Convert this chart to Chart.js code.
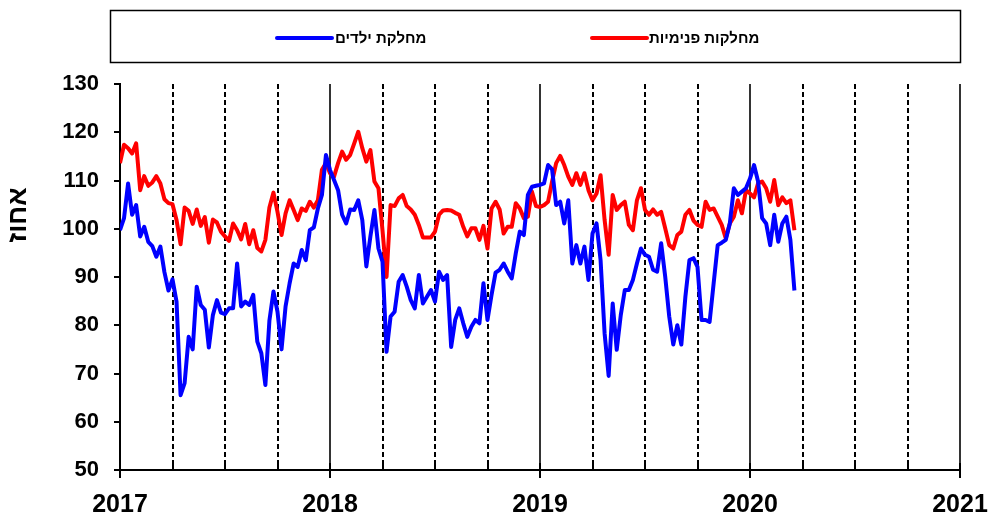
<!DOCTYPE html>
<html>
<head>
<meta charset="utf-8">
<style>
html,body{margin:0;padding:0;background:#ffffff;}
#wrap{position:relative;width:995px;height:519px;}
</style>
<script src="https://cdn.jsdelivr.net/npm/chart.js@4.4.1/dist/chart.umd.min.js"></script>
</head>
<body>
<div id="wrap"><canvas id="c" width="995" height="519"></canvas></div>
<script>
// ---- data ----
const yearLabels = ['2017', '2018', '2019', '2020', '2021'];
const startYear = 2017;
const weeksPerYear = 52;
const seriesNames = ['מחלקת ילדים', 'מחלקות פנימיות'];
const yAxisTitle = 'אחוז';
const yTickValues = [50, 60, 70, 80, 90, 100, 110, 120, 130];

// weekly values, from the first week of 2017
const childrenWard = [
  99.7,102.2,109.4,102.9,104.9,98.4,100.4,97.3,96.4,94.2,
  96.3,91.0,87.2,89.5,84.9,65.5,68.0,77.6,75.0,88.0,
  84.2,83.2,75.4,82.1,85.2,82.6,82.3,83.5,83.5,92.8,
  83.9,84.9,84.2,86.3,76.6,74.2,67.6,81.0,87.0,82.8,
  75.0,83.9,88.7,92.8,92.1,95.6,93.5,99.7,100.3,104.2,
  107.0,115.3,112.2,110.1,108.0,102.9,101.1,104.0,103.9,105.9,
  101.8,92.2,98.4,103.9,95.9,93.2,74.5,81.8,82.8,89.0,
  90.4,88.0,85.2,83.5,90.4,84.5,85.9,87.3,84.9,91.1,
  89.4,90.4,75.5,81.1,83.5,80.4,77.6,79.7,81.1,80.4,
  88.7,81.1,86.3,90.9,91.5,92.8,91.1,89.7,94.9,99.4,
  98.7,107.0,108.7,108.9,109.1,109.4,113.2,112.3,104.9,105.6,
  101.1,105.9,92.8,96.6,92.8,96.3,89.4,99.0,101.1,93.5,
  78.3,69.5,84.5,74.9,82.1,87.3,87.3,89.4,92.8,95.9,
  94.6,94.2,91.5,91.1,97.0,90.1,81.8,76.0,80.0,76.0,
  85.9,93.5,93.9,92.1,81.1,81.1,80.7,88.7,96.6,97.1,
  97.7,101.1,108.4,107.0,107.7,108.4,110.4,113.2,109.8,102.2,
  101.1,96.6,102.9,97.3,101.1,102.5,97.7,87.2
];
const internalWards = [
  113.6,117.4,116.7,115.6,117.7,108.0,110.9,108.9,109.6,110.9,
  109.4,106.1,105.3,105.1,101.8,96.8,104.4,103.7,101.0,104.0,
  100.6,102.4,97.1,101.9,101.3,99.4,98.4,97.5,101.1,99.7,
  97.8,101.0,96.8,99.7,96.0,95.3,97.7,104.4,107.5,103.5,
  98.7,103.2,105.9,103.9,101.8,104.2,103.7,105.6,104.4,105.9,
  112.2,113.6,111.5,110.8,113.6,116.0,114.3,115.3,117.7,120.1,
  116.7,113.9,116.3,109.8,108.4,99.7,90.0,104.9,104.7,106.3,
  107.0,104.7,104.0,102.9,100.8,98.2,98.2,98.2,99.4,102.9,
  103.8,103.9,103.8,103.3,102.9,100.4,98.4,100.1,100.1,97.7,
  100.6,95.9,104.2,105.6,104.0,99.0,100.4,100.4,105.3,104.2,
  102.2,102.5,107.7,104.7,104.5,104.9,105.6,109.8,113.6,115.1,
  113.2,110.8,109.1,111.5,109.1,111.5,108.0,105.9,107.3,111.1,
  101.8,94.6,107.0,103.9,104.9,105.6,100.8,99.7,105.9,108.4,
  103.9,102.9,104.0,102.9,103.5,100.1,96.6,95.9,98.7,99.4,
  102.9,103.9,101.7,100.8,100.4,105.6,103.9,104.2,102.5,100.8,
  98.0,101.1,102.5,105.9,103.2,108.0,107.3,106.5,109.4,109.8,
  108.4,105.6,110.1,104.9,106.5,105.3,105.9,99.7
];

// ---- build ----
const FONT = "'Liberation Sans', Arial, sans-serif";
const toPoints = arr => arr.map((v, i) => ({ x: startYear + i / weeksPerYear, y: v }));
const firstYear = startYear;
const lastYear = startYear + yearLabels.length - 1;

const decor = {
  id: 'decor',
  beforeDatasetsDraw(chart) {
    const { ctx, chartArea, scales } = chart;
    const xs = scales.x;
    ctx.save();
    for (let y = firstYear; y < lastYear; y++) {
      for (let q = 1; q <= 4; q++) {
        const v = y + q / 4;
        const px = Math.round(xs.getPixelForValue(v));
        ctx.beginPath();
        ctx.strokeStyle = '#000';
        if (q === 4) {
          ctx.setLineDash([]);
          ctx.lineWidth = 1.6;
        } else {
          ctx.setLineDash([5, 3]);
          ctx.lineWidth = 2;
        }
        ctx.moveTo(px, chartArea.top);
        ctx.lineTo(px, chartArea.bottom);
        ctx.stroke();
        ctx.setLineDash([]);
        ctx.lineWidth = 2;
        ctx.beginPath();
        ctx.moveTo(px, chartArea.bottom - 7);
        ctx.lineTo(px, chartArea.bottom);
        ctx.stroke();
      }
    }
    ctx.restore();
  },
  afterDraw(chart) {
    const { ctx } = chart;
    ctx.save();
    ctx.strokeStyle = '#000';
    ctx.lineWidth = 1.5;
    ctx.strokeRect(110.5, 10.5, 850, 52);
    const items = [
      { name: seriesNames[0], color: '#0000FF', x0: 277, x1: 332, tx: 335 },
      { name: seriesNames[1], color: '#FF0000', x0: 592, x1: 647, tx: 649 }
    ];
    items.forEach(it => {
      ctx.beginPath();
      ctx.strokeStyle = it.color;
      ctx.lineWidth = 4;
      ctx.lineCap = 'round';
      ctx.moveTo(it.x0, 38);
      ctx.lineTo(it.x1, 38);
      ctx.stroke();
      ctx.fillStyle = '#000';
      ctx.font = 'bold 15px ' + FONT;
      ctx.textAlign = 'left';
      ctx.textBaseline = 'middle';
      ctx.fillText(it.name, it.tx, 39);
    });
    ctx.translate(19, 215);
    ctx.rotate(-Math.PI / 2);
    ctx.font = 'bold 27px ' + FONT;
    ctx.fillStyle = '#000';
    ctx.textAlign = 'center';
    ctx.textBaseline = 'middle';
    ctx.fillText(yAxisTitle, 0, 0);
    ctx.restore();
  }
};

new Chart(document.getElementById('c'), {
  type: 'line',
  data: {
    datasets: [
      { label: seriesNames[0], data: toPoints(childrenWard), borderColor: '#0000FF', backgroundColor: '#0000FF', borderWidth: 4, pointRadius: 0, tension: 0, fill: false, borderJoinStyle: 'round' },
      { label: seriesNames[1], data: toPoints(internalWards), borderColor: '#FF0000', backgroundColor: '#FF0000', borderWidth: 4, pointRadius: 0, tension: 0, fill: false, borderJoinStyle: 'round' }
    ]
  },
  options: {
    responsive: false,
    animation: false,
    devicePixelRatio: 1,
    layout: { padding: { top: 84, right: 35, left: 0, bottom: 0 } },
    plugins: { legend: { display: false }, tooltip: { enabled: false } },
    scales: {
      x: {
        type: 'linear',
        min: firstYear,
        max: lastYear,
        afterBuildTicks: s => { s.ticks = yearLabels.map((l, i) => ({ value: firstYear + i })); },
        ticks: {
          callback: (v) => yearLabels[Math.round(v) - firstYear],
          font: { family: FONT, size: 25, weight: 'bold' },
          color: '#000',
          maxRotation: 0,
          autoSkip: false,
          padding: 12
        },
        grid: { drawOnChartArea: false, drawTicks: true, tickLength: 8, color: '#000', lineWidth: 2 },
        border: { display: true, color: '#000', width: 2 },
        afterFit: s => { s.height = 49; s.paddingLeft = 0; s.paddingRight = 0; }
      },
      y: {
        min: 50,
        max: 130,
        afterBuildTicks: s => { s.ticks = yTickValues.map(v => ({ value: v })); },
        ticks: {
          font: { family: FONT, size: 22, weight: 'bold' },
          color: '#000',
          padding: 15
        },
        grid: { drawOnChartArea: false, drawTicks: true, tickLength: 6, color: '#000', lineWidth: 2 },
        border: { display: true, color: '#000', width: 2 },
        afterFit: s => { s.width = 120; }
      }
    }
  },
  plugins: [decor]
});
</script>
</body>
</html>
